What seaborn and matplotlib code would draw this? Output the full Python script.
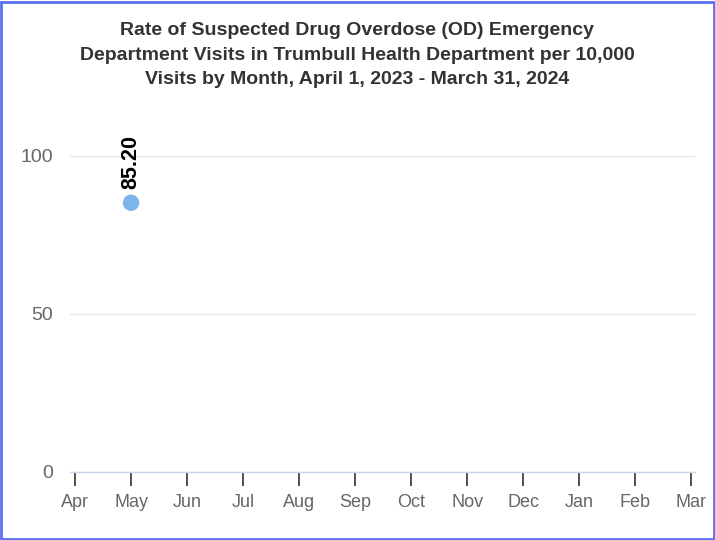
import numpy as np
import pandas as pd
import matplotlib
matplotlib.use('Agg')
import matplotlib.pyplot as plt
import seaborn as sns
from matplotlib.patches import Rectangle

months = ['Apr', 'May', 'Jun', 'Jul', 'Aug', 'Sep', 'Oct', 'Nov', 'Dec', 'Jan', 'Feb', 'Mar']
rate = [np.nan, 85.20, np.nan, np.nan, np.nan, np.nan, np.nan, np.nan, np.nan, np.nan, np.nan, np.nan]
yticks = [0, 50, 100]

df = pd.DataFrame({'month': months, 'rate': rate})
df['pos'] = range(len(months))

sns.set_theme(style='white')
plt.rcParams['font.family'] = ['Liberation Sans', 'DejaVu Sans']

fig = plt.figure(figsize=(7.15, 5.40), dpi=100)
ax = fig.add_axes([70 / 715, 1 - 472 / 540, 625 / 715, 316 / 540])

sns.scatterplot(data=df, x='pos', y='rate', ax=ax, color='#7cb5ec', s=140,
                edgecolor='none', clip_on=False, zorder=3)

# rotated data labels above the points
for _, r in df.dropna().iterrows():
    ax.annotate(f"{r['rate']:.2f}", (r['pos'], r['rate']), xytext=(0, 10),
                textcoords='offset points', rotation=90, ha='center', va='bottom',
                fontsize=15.5, fontweight='bold', color='#000000', annotation_clip=False)

ax.set_xlim(-0.09, 11.07)
ax.set_ylim(0, 100)
ax.set_xticks(df['pos'])
ax.set_xticklabels(months)
ax.set_yticks(yticks)
ax.set_xlabel('')
ax.set_ylabel('')
ax.grid(axis='y', color='#e6e6e6', linewidth=1)
ax.set_axisbelow(True)
for s in ['top', 'right', 'left']:
    ax.spines[s].set_visible(False)
ax.spines['bottom'].set_color('#ccd6eb')
ax.spines['bottom'].set_linewidth(1)
ax.tick_params(axis='x', length=10, width=1.2, color='#333333', direction='out',
               labelsize=13, labelcolor='#666666', pad=6, bottom=True)
ax.tick_params(axis='y', length=0, labelsize=14, labelcolor='#666666', pad=12.5)

fig.text(0.5, 1 - 55 / 540,
         'Rate of Suspected Drug Overdose (OD) Emergency\n'
         'Department Visits in Trumbull Health Department per 10,000\n'
         'Visits by Month, April 1, 2023 - March 31, 2024',
         ha='center', va='center', fontsize=14, fontweight='bold', color='#333333',
         linespacing=1.55)

fig.patches.append(Rectangle((0.001, 0.002), 0.997, 0.995, transform=fig.transFigure,
                             fill=False, edgecolor='#5c6ff0', linewidth=2))

fig.savefig('out.png', dpi=100)
